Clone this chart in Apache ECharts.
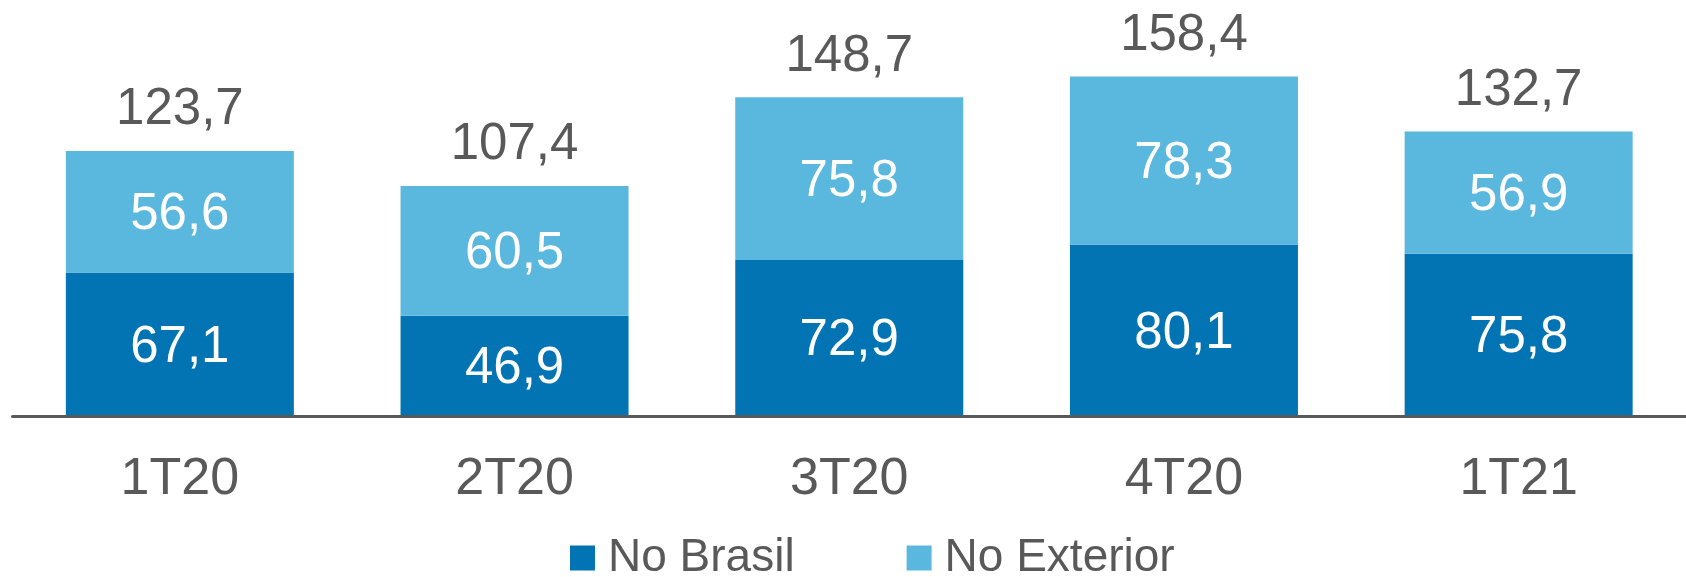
<!DOCTYPE html>
<html>
<head>
<meta charset="utf-8">
<script src="https://cdn.jsdelivr.net/npm/echarts@6/dist/echarts.min.js"></script>
<style>
html,body{margin:0;padding:0;background:#fff;}
#chart{width:1686px;height:577px;}
</style>
</head>
<body>
<div id="chart"></div>
<script>
const categories = ['1T20', '2T20', '3T20', '4T20', '1T21'];
const brasil = [67.1, 46.9, 72.9, 80.1, 75.8];
const exterior = [56.6, 60.5, 75.8, 78.3, 56.9];
const totals = [123.7, 107.4, 148.7, 158.4, 132.7];
const seriesNames = ['No Brasil', 'No Exterior'];

const fmt = v => String(v.toFixed(1)).replace('.', ',');
const FONT = '"Liberation Sans", Arial, sans-serif';
const GRAY = '#595959';

const chart = echarts.init(document.getElementById('chart'), null, {renderer: 'canvas'});
chart.setOption({
  animation: false,
  backgroundColor: '#fff',
  textStyle: {fontFamily: FONT},
  grid: {left: 12.5, right: -24.8, top: 30, bottom: 160.5, containLabel: false},
  legend: {
    data: seriesNames,
    left: 565,
    top: 530,
    itemWidth: 25,
    itemHeight: 25,
    itemGap: 112,
    textStyle: {fontSize: 46, color: GRAY, fontFamily: FONT, padding: [0, 0, 0, 8]},
    icon: 'rect'
  },
  xAxis: {
    type: 'category',
    data: categories,
    z: 5,
    axisLine: {lineStyle: {color: '#595959', width: 3}},
    axisTick: {show: false},
    axisLabel: {fontSize: 52, color: GRAY, margin: 37, fontFamily: FONT}
  },
  yAxis: {
    type: 'value',
    min: 0,
    max: 180,
    show: false,
    splitLine: {show: false}
  },
  series: [
    {
      name: seriesNames[0],
      type: 'bar',
      stack: 'total',
      barWidth: 228,
      data: brasil,
      itemStyle: {color: '#0274B3'},
      label: {show: true, position: 'inside', offset: [0, 3], color: '#fff', fontSize: 51, fontFamily: FONT,
              formatter: p => fmt(p.value)}
    },
    {
      name: seriesNames[1],
      type: 'bar',
      stack: 'total',
      barWidth: 228,
      data: exterior,
      itemStyle: {color: '#5AB7DE'},
      label: {show: true, position: 'inside', offset: [0, 3], color: '#fff', fontSize: 51, fontFamily: FONT,
              formatter: p => fmt(p.value)}
    },
    {
      name: 'Total',
      type: 'scatter',
      data: totals,
      symbolSize: 0,
      silent: true,
      itemStyle: {opacity: 1},
      label: {show: true, position: 'top', distance: 15, color: GRAY, opacity: 1, fontSize: 51, fontFamily: FONT,
              formatter: p => fmt(p.value)}
    }
  ]
});
</script>
</body>
</html>
